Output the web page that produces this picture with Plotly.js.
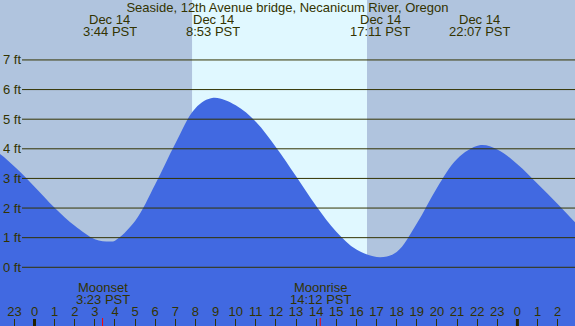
<!DOCTYPE html>
<html>
<head>
<meta charset="utf-8">
<script src="https://cdn.plot.ly/plotly-3.0.1.min.js"></script>
<style>html,body{margin:0;padding:0;background:#b0c4de}</style>
</head>
<body>
<div id="chart" style="width:575px;height:326px"></div>
<script>
// Tide readings (hours from midnight Dec 14, PST) and heights in feet
const tideHours = [-3, -2, -1, 0, 1, 2, 3, 3.733, 4, 5, 6, 7, 8, 8.887, 10, 11, 12, 13, 14, 15, 16, 17.172, 18, 19, 20, 21, 22.117, 23, 24, 25, 26, 27];
const tideFeet  = [4.0, 3.93, 3.4, 2.72, 2.01, 1.4, 0.95, 0.87, 0.9, 1.56, 2.8, 4.18, 5.37, 5.72, 5.47, 4.91, 4.05, 3.07, 2.07, 1.2, 0.6, 0.34, 0.52, 1.48, 2.68, 3.66, 4.12, 3.98, 3.48, 2.82, 2.14, 1.42];

// High / low tide labels
const extremeHours = [-2.93, 3.733, 8.883, 17.183, 22.117];
const extremeDates = ['Dec 13', 'Dec 14', 'Dec 14', 'Dec 14', 'Dec 14'];
const extremeTimes = ['21:04 PST', '3:44 PST', '8:53 PST', '17:11 PST', '22:07 PST'];

// Moon events
const moonHours = [3.383, 14.2];
const moonNames = ['Moonset', 'Moonrise'];
const moonTimes = ['3:23 PST', '14:12 PST'];

// Sun
const sunrise = 7.83;
const sunset = 16.525;

// Axis ticks
const hourTicks = [-2, -1, 0, 1, 2, 3, 4, 5, 6, 7, 8, 9, 10, 11, 12, 13, 14, 15, 16, 17, 18, 19, 20, 21, 22, 23, 24, 25, 26];
const hourLabels = ['22', '23', '0', '1', '2', '3', '4', '5', '6', '7', '8', '9', '10', '11', '12', '13', '14', '15', '16', '17', '18', '19', '20', '21', '22', '23', '0', '1', '2'];
const midnightHours = [0, 24];
const feetTicks = [0, 1, 2, 3, 4, 5, 6, 7];
const feetLabels = ['0 ft', '1 ft', '2 ft', '3 ft', '4 ft', '5 ft', '6 ft', '7 ft'];

const TXT = '#333300';
const FONT = 'Liberation Sans, Arial, sans-serif';
const W = 575, H = 326;
const py = p => 1 - p / H;

const traces = [
  {x: [tideHours[0], tideHours[tideHours.length - 1]], y: [-5, -5], mode: 'lines',
   line: {width: 0, color: '#4169e1'}, hoverinfo: 'skip', showlegend: false},
  {x: tideHours, y: tideFeet, mode: 'lines', fill: 'tonexty', fillcolor: '#4169e1',
   line: {shape: 'spline', smoothing: 1, width: 0, color: '#4169e1'}, hoverinfo: 'skip', showlegend: false}
];

const shapes = [
  {type: 'rect', xref: 'x', yref: 'paper', x0: sunrise, x1: sunset, y0: 0, y1: 1,
   fillcolor: '#e0f8ff', line: {width: 0}, layer: 'below'}
];
feetTicks.forEach(f => shapes.push({type: 'line', xref: 'paper', yref: 'y', x0: 22 / W, x1: 1, y0: f, y1: f,
  line: {color: TXT, width: 1}, layer: 'above'}));
midnightHours.forEach(h => shapes.push({type: 'line', xref: 'x', yref: 'paper', x0: h, x1: h, y0: 0, y1: 7 / H,
  line: {color: '#222200', width: 3}, layer: 'above'}));
moonHours.forEach(h => shapes.push({type: 'line', xref: 'x', yref: 'paper', x0: h, x1: h, y0: 0, y1: 8 / H,
  line: {color: '#ff0000', width: 1}, layer: 'above'}));

const annotations = [];
const tf = {family: FONT, size: 13, color: TXT};
const ann = (x, p, text) => ({xref: 'x', yref: 'paper', x: x, y: py(p), text: text, showarrow: false, font: tf,
  xanchor: 'center', yanchor: 'middle', height: 11, borderpad: 0});
extremeHours.forEach((h, i) => {
  annotations.push(ann(h, 19.5, extremeDates[i]));
  annotations.push(ann(h, 31.5, extremeTimes[i]));
});
moonHours.forEach((h, i) => {
  annotations.push(ann(h, 287, moonNames[i]));
  annotations.push(ann(h, 299, moonTimes[i]));
});
feetTicks.forEach((f, i) => annotations.push({xref: 'paper', yref: 'y', x: 2 / W, y: f, text: feetLabels[i],
  showarrow: false, font: tf, xanchor: 'left', yanchor: 'middle', height: 11, borderpad: 0}));

const layout = {
  width: W, height: H,
  margin: {l: 0, r: 0, t: 0, b: 0, pad: 0},
  paper_bgcolor: '#b0c4de', plot_bgcolor: '#b0c4de',
  showlegend: false,
  title: {text: 'Seaside, 12th Avenue bridge, Necanicum River, Oregon', x: 0.5, xanchor: 'center',
          y: py(7.5), yanchor: 'middle', yref: 'container', font: tf},
  xaxis: {range: [-1.715, 26.863], tickvals: hourTicks, ticktext: hourLabels, ticks: 'inside', ticklen: 7,
          tickcolor: TXT, tickwidth: 1, ticklabelposition: 'inside', ticklabeloverflow: 'allow', tickfont: tf, showgrid: false,
          zeroline: false, showline: false, fixedrange: true},
  yaxis: {range: [-1.982, 9.024], showticklabels: false, ticks: '', showgrid: false, zeroline: false,
          showline: false, fixedrange: true},
  shapes: shapes,
  annotations: annotations
};

Plotly.newPlot('chart', traces, layout, {staticPlot: true, displayModeBar: false});
</script>
</body>
</html>
